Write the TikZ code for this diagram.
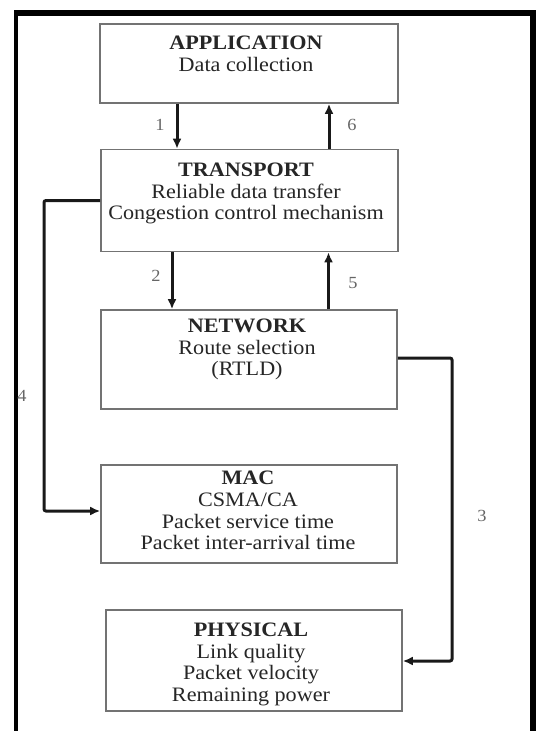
\documentclass[tikz,border=0pt]{standalone}
\usepackage{fontspec}
\setmainfont{Liberation Serif}[FakeStretch=1.08]
\usetikzlibrary{arrows.meta,calc}
\begin{document}
\begin{tikzpicture}[x=1pt,y=-1pt,
  box/.style={draw=black!55, line width=1.6pt, inner sep=0pt, fill=white},
  txt/.style={align=center, inner sep=0pt, text=black!85,
    font=\fontsize{20.5}{21.7}\selectfont},
  conn/.style={draw=black!90, line width=3pt, rounded corners=2pt,
    -{Latex[length=10pt,width=9pt]}},
  lbl/.style={inner sep=0pt, text=black!60, font=\fontsize{17}{17}\selectfont}]
\useasboundingbox (0,0) rectangle (536,731);
% outer frame
\fill[black] (13.5,10) rectangle (536,16);
\fill[black] (13.5,10) rectangle (17.5,731);
\fill[black] (530,10) rectangle (536,731);
% boxes
\node[box, minimum width=298pt, minimum height=79pt] (app) at (249,63.5) {};
\node[box, minimum width=297pt, minimum height=102pt] (trans) at (249.5,200.5) {};
\node[box, minimum width=296pt, minimum height=99pt] (net) at (249,359.5) {};
\node[box, minimum width=296pt, minimum height=98pt] (mac) at (249,514) {};
\node[box, minimum width=296pt, minimum height=101pt] (phy) at (254,660.5) {};
% texts
\node[txt] (appT) at (246,54) {\textbf{APPLICATION}\\Data collection};
\node[txt] (transT) at (246,193.5) {\textbf{TRANSPORT}\\Reliable data transfer\\Congestion control mechanism};
\node[txt] (netT) at (247,349.5) {\textbf{NETWORK}\\Route selection\\(RTLD)};
\node[txt] (macT) at (248,510.5) {\textbf{MAC}\\CSMA/CA\\Packet service time\\Packet inter-arrival time};
\node[txt] (phyT) at (251,664.5) {\textbf{PHYSICAL}\\Link quality\\Packet velocity\\Remaining power};
% vertical connectors
\draw[conn] ([xshift=-72pt]app.south) -- ([xshift=-72pt]app.south |- trans.north);
\draw[conn] ([xshift=79.5pt]trans.north) -- ([xshift=79.5pt]trans.north |- app.south);
\draw[conn] ([xshift=-77.5pt]trans.south) -- ([xshift=-77.5pt]trans.south |- net.north);
\draw[conn] ([xshift=79.5pt]net.north) -- ([xshift=79.5pt]net.north |- trans.south);
% side connectors
\coordinate (c4b) at (44,511);
\draw[conn] (trans.west) -- (trans.west -| c4b) -- (c4b) -- (c4b -| mac.west);
\coordinate (c3a) at (452,358);
\coordinate (c3b) at (452,661);
\draw[conn] (c3a -| net.east) -- (c3a) -- (c3b) -- (c3b -| phy.east);
% labels
\node[lbl] (l1) at (160,125) {1};
\node[lbl] (l6) at (352,125) {6};
\node[lbl] (l2) at (156,276) {2};
\node[lbl] (l5) at (353,283) {5};
\node[lbl] (l4) at (22,396) {4};
\node[lbl] (l3) at (482,516) {3};
\end{tikzpicture}
\end{document}
